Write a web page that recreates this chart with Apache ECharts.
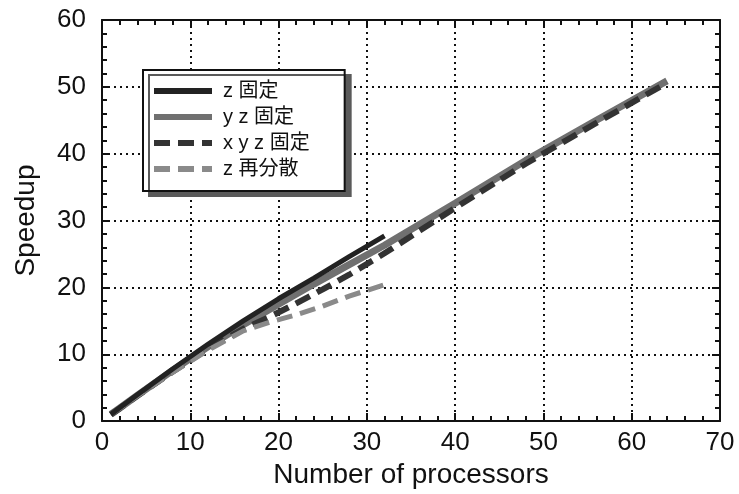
<!DOCTYPE html>
<html><head><meta charset="utf-8">
<script src="https://cdn.jsdelivr.net/npm/echarts@6/dist/echarts.min.js"></script>
<style>html,body{margin:0;padding:0;background:#fff}#c{width:739px;height:494px}</style>
</head><body><div id="c"></div>
<script>
const seriesNames = ['z 固定', 'y z 固定', 'x y z 固定', 'z 再分散'];
const zFixedX = [1, 2, 4, 8, 12, 16, 20, 24, 28, 32];
const zFixedY = [1, 2.0, 3.95, 7.8, 11.5, 15.0, 18.3, 21.4, 24.6, 27.7];
const yzFixedX = [1, 2, 4, 8, 12, 16, 20, 24, 28, 32, 40, 48, 56, 64];
const yzFixedY = [1, 1.95, 3.85, 7.6, 11.1, 14.4, 17.5, 20.5, 23.4, 26.3, 32.6, 39.0, 45.0, 50.9];
const xyzFixedX = [1, 2, 4, 8, 12, 16, 19, 22, 25, 28, 32, 36, 40, 48, 56, 64];
const xyzFixedY = [1, 1.9, 3.8, 7.4, 10.8, 13.8, 15.6, 17.6, 19.7, 21.9, 25.1, 28.5, 31.9, 38.5, 44.6, 50.6];
const zRedistX = [1, 2, 4, 8, 12, 16, 19, 22, 25, 28, 32];
const zRedistY = [1, 1.9, 3.75, 7.3, 10.6, 13.5, 14.8, 15.9, 17.2, 18.7, 20.4];
const xTicks = [0, 10, 20, 30, 40, 50, 60, 70];
const yTicks = [0, 10, 20, 30, 40, 50, 60];

const zip = (xs, ys) => xs.map((x, i) => [x, ys[i]]);
const font = 'Liberation Sans, Arial, sans-serif';
const cjk = 'Liberation Sans, Noto Sans CJK JP, sans-serif';

const axisCommon = {
  axisLine: { show: true, onZero: false, lineStyle: { color: '#111', width: 2 } },
  axisTick: { show: true, inside: true, length: 8, lineStyle: { color: '#111', width: 2 } },
  minorTick: { show: true, splitNumber: 5, length: 5, lineStyle: { color: '#111', width: 2 } },
};

const chart = echarts.init(document.getElementById('c'), null, { renderer: 'canvas' });
chart.setOption({
  animation: false,
  backgroundColor: '#fff',
  grid: { left: 102, right: 19, top: 20, bottom: 71 },
  legend: {
    orient: 'vertical', left: 143, top: 70,
    data: seriesNames,
    itemWidth: 58, itemHeight: 14, itemGap: 6,
    padding: [11, 35, 12, 8],
    backgroundColor: '#fff', borderColor: '#111', borderWidth: 2,
    shadowColor: '#5a5a5a', shadowBlur: 0, shadowOffsetX: 6, shadowOffsetY: 5,
    itemStyle: { opacity: 0 },
    lineStyle: { width: 6 },
    textStyle: { fontFamily: cjk, fontSize: 20, color: '#111', padding: [0, 0, 0, 6] }
  },
  xAxis: [{
    type: 'value', min: xTicks[0], max: xTicks[xTicks.length - 1], interval: 10,
    position: 'bottom',
    name: 'Number of processors', nameLocation: 'middle', nameGap: 35,
    nameTextStyle: { fontFamily: font, fontSize: 28, color: '#111' },
    axisLabel: { fontFamily: font, fontSize: 26, color: '#111', margin: 9 },
    splitLine: { show: true, lineStyle: { color: '#111', type: [2, 4], width: 2 } },
    ...axisCommon
  }, {
    type: 'value', min: xTicks[0], max: xTicks[xTicks.length - 1], interval: 10,
    position: 'top', axisLabel: { show: false }, splitLine: { show: false },
    ...axisCommon
  }],
  yAxis: [{
    type: 'value', min: yTicks[0], max: yTicks[yTicks.length - 1], interval: 10,
    position: 'left',
    name: 'Speedup', nameLocation: 'middle', nameGap: 62,
    nameTextStyle: { fontFamily: font, fontSize: 28, color: '#111' },
    axisLabel: { fontFamily: font, fontSize: 26, color: '#111', margin: 16 },
    splitLine: { show: true, lineStyle: { color: '#111', type: [2, 4], width: 2 } },
    ...axisCommon
  }, {
    type: 'value', min: yTicks[0], max: yTicks[yTicks.length - 1], interval: 10,
    position: 'right', axisLabel: { show: false }, splitLine: { show: false },
    ...axisCommon
  }],
  series: [
    { name: seriesNames[1], type: 'line', data: zip(yzFixedX, yzFixedY), symbol: 'none', z: 3,
      lineStyle: { color: '#707070', width: 7, type: 'solid' }, itemStyle: { color: '#707070' } },
    { name: seriesNames[2], type: 'line', data: zip(xyzFixedX, xyzFixedY), symbol: 'none', z: 4,
      lineStyle: { color: '#333', width: 6, type: [16, 8] }, itemStyle: { color: '#333' } },
    { name: seriesNames[3], type: 'line', data: zip(zRedistX, zRedistY), symbol: 'none', z: 4,
      lineStyle: { color: '#8a8a8a', width: 5, type: [16, 8] }, itemStyle: { color: '#8a8a8a' } },
    { name: seriesNames[0], type: 'line', data: zip(zFixedX, zFixedY), symbol: 'none', z: 5,
      lineStyle: { color: '#222', width: 5, type: 'solid' }, itemStyle: { color: '#222' } }
  ]
});
</script></body></html>
